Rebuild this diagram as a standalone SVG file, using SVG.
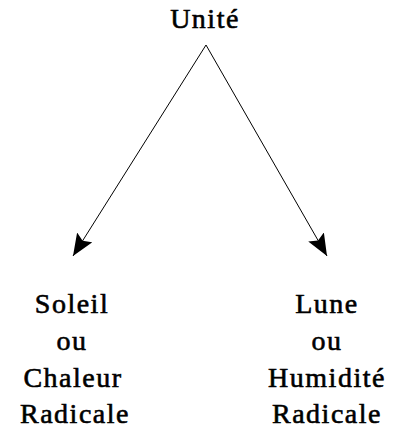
<svg xmlns="http://www.w3.org/2000/svg" width="400" height="428" viewBox="0 0 400 428">
  <style>
    text { font-family: "Liberation Serif", "DejaVu Serif", "Times New Roman", serif; font-size: 28px; font-weight: normal; fill: #000; stroke: #000; stroke-width: 0.6; text-anchor: middle; letter-spacing: 1.5px; }
    .edge { stroke: #000; stroke-width: 1; fill: none; }
  </style>
  <defs>
    <marker id="arrow" markerUnits="userSpaceOnUse" markerWidth="24" markerHeight="20" refX="22" refY="9" orient="auto">
      <path d="M0,0 L22,9 L0,18 L4,9 z" fill="#000"/>
    </marker>
  </defs>
  <rect width="400" height="428" fill="#fff"/>
  <g id="connectors">
    <line class="edge" x1="206" y1="45" x2="73" y2="256" marker-end="url(#arrow)"/>
    <line class="edge" x1="206" y1="45" x2="327" y2="256" marker-end="url(#arrow)"/>
  </g>
  <g id="unite">
    <text x="205" y="28">Unité</text>
  </g>
  <g id="soleil">
    <text x="72" y="313">Soleil</text>
    <text x="72" y="350">ou</text>
    <text x="73" y="387">Chaleur</text>
    <text x="75" y="423">Radicale</text>
  </g>
  <g id="lune">
    <text x="327" y="313">Lune</text>
    <text x="327" y="350">ou</text>
    <text x="327" y="387">Humidité</text>
    <text x="327" y="423">Radicale</text>
  </g>
</svg>
